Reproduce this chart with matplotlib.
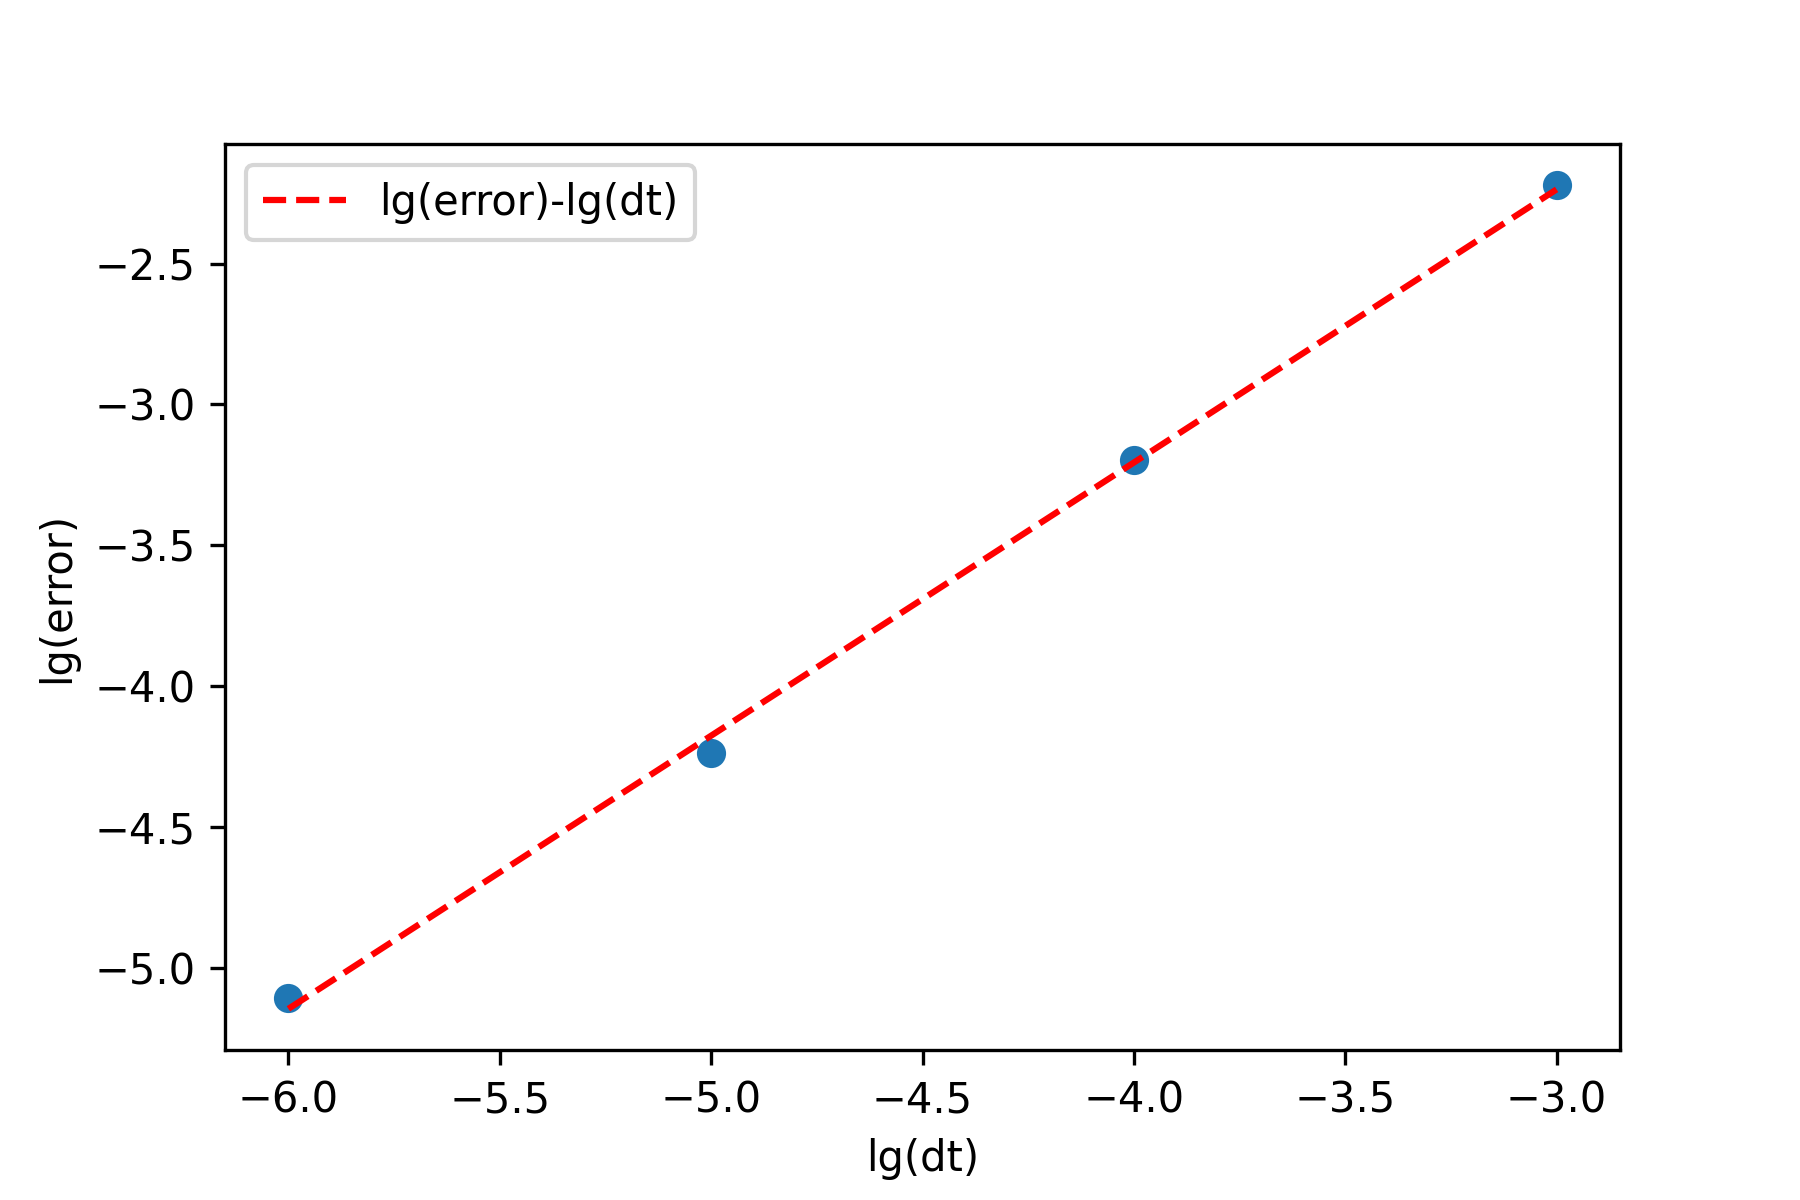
import matplotlib
matplotlib.use("Agg")
import matplotlib.pyplot as plt
import numpy as np

lg_dt = [-6.0, -5.0, -4.0, -3.0]
lg_error = [-5.105, -4.238, -3.197, -2.222]
legend_label = "lg(error)-lg(dt)"

fig, ax = plt.subplots(figsize=(6, 4), dpi=300)
fig.subplots_adjust(left=0.125, right=0.9, bottom=0.125, top=0.88)
ax.scatter(lg_dt, lg_error, color="#1f77b4", s=36, zorder=2)
coef = np.polyfit(lg_dt, lg_error, 1)
fit = np.polyval(coef, lg_dt)
ax.plot(lg_dt, fit, "r--", label=legend_label, zorder=3)
ax.set_xlabel("lg(dt)")
ax.set_ylabel("lg(error)")
ax.legend(loc="upper left")
fig.savefig("out.png")
